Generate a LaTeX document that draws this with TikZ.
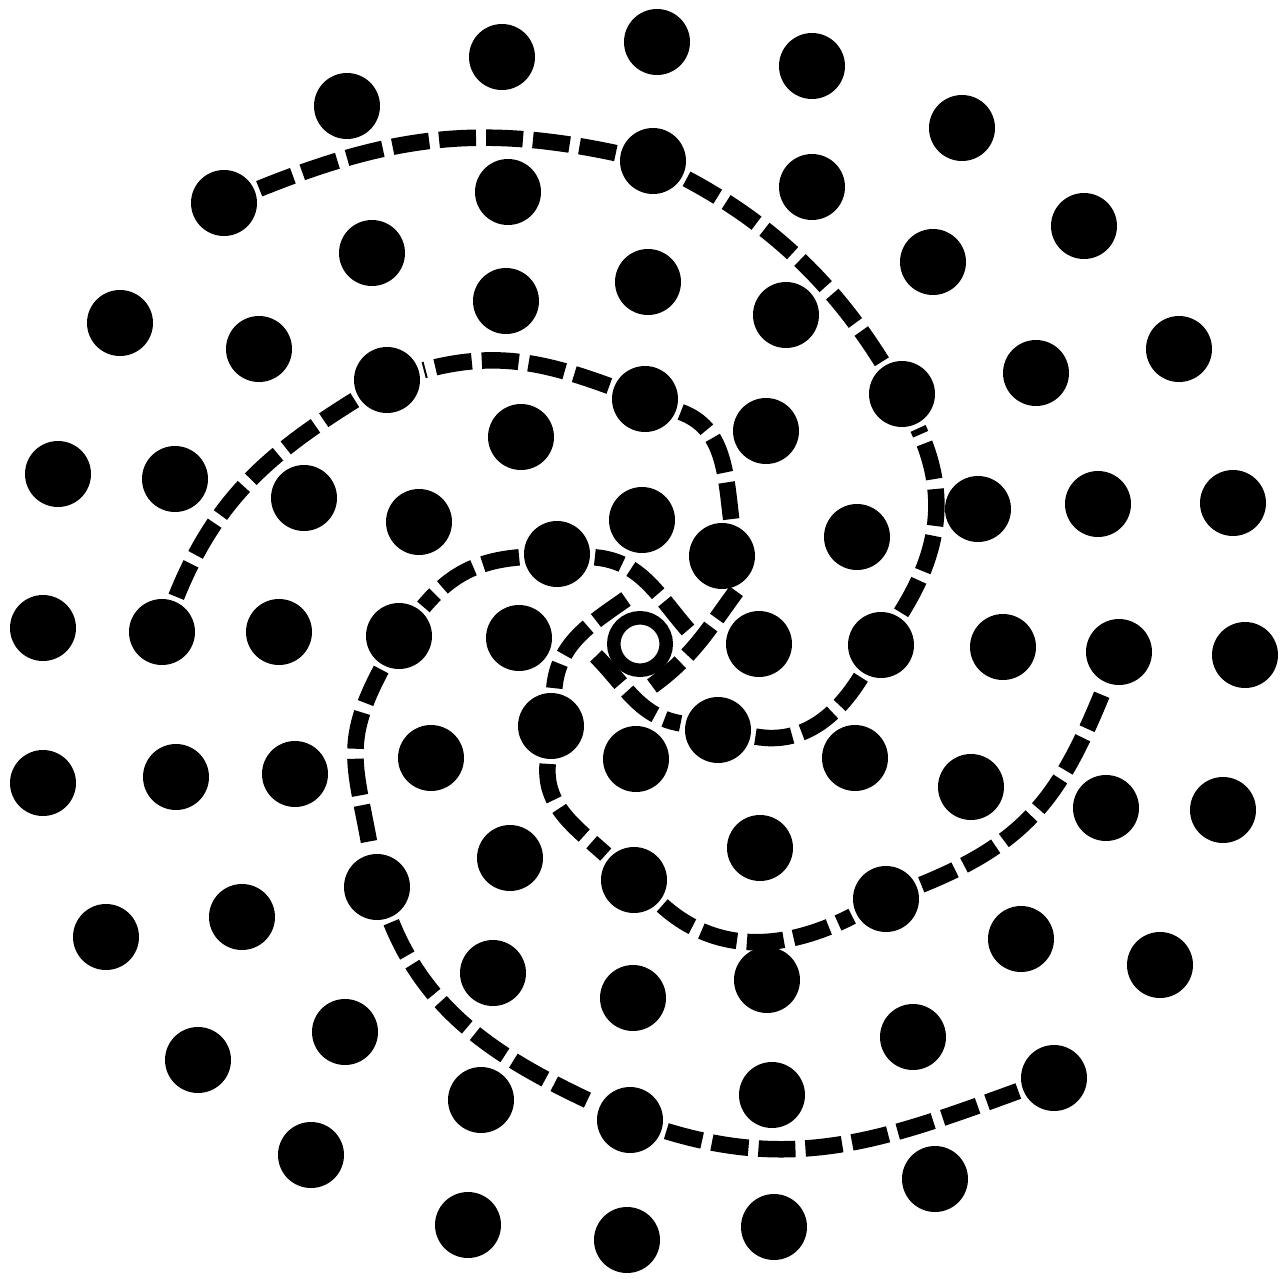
\documentclass[tikz,border=0pt]{standalone}

\begin{document}
\begin{tikzpicture}[
      x=0.02cm, y=-0.02cm,
      dot/.style={circle, fill=black, minimum size=1.32cm, inner sep=0pt, outer sep=0.1cm},
      eye/.style={circle, draw=black, line width=0.27cm, minimum size=1.05cm, inner sep=0pt},
      arm/.style={line width=0.33cm, dash pattern=on 0.74cm off 0.2cm}
    ]
      \useasboundingbox (0,0) rectangle (1288,1278);

      \foreach \n/\x/\y in {1/502/57, 2/657/42, 3/812/66, 4/347/106, 5/962/128,
          6/653/161, 7/224/203, 8/508/192, 9/812/187, 10/1084/226, 11/372/253,
          12/933/262, 13/648/282, 14/506/301, 15/786/315, 16/120/323, 17/259/349,
          18/1179/349, 19/1036/373, 20/387/380, 21/645/399, 22/902/394, 23/521/437,
          24/766/431, 25/58/474, 26/175/479, 27/304/498, 28/419/522, 29/642/520,
          30/978/509, 31/1098/504, 32/1233/503, 33/857/537, 34/557/554, 35/722/556,
          36/43/628, 37/162/632, 38/279/632, 39/399/636, 40/519/638, 41/759/644,
          42/881/645, 43/1003/647, 44/1119/652, 45/1245/655, 46/551/726, 47/718/730,
          48/43/783, 49/176/777, 50/295/774, 51/431/758, 52/636/759, 53/855/758,
          54/971/787, 55/1106/808, 56/1223/810, 57/510/858, 58/760/848, 59/377/887,
          60/634/880, 61/886/899, 62/106/937, 63/242/917, 64/1021/939, 65/1160/965,
          66/493/973, 67/633/998, 68/767/980, 69/345/1032, 70/198/1060, 71/913/1037,
          72/481/1100, 73/772/1095, 74/1054/1078, 75/630/1120, 76/311/1155,
          77/935/1179, 78/468/1225, 79/627/1240, 80/774/1227}
        \node[dot] (s\n) at (\x,\y) {};

      \node[eye] (ring) at (640,644) {};

      \coordinate (a0) at (596,656);
      \coordinate (b0) at (626,599);
      \coordinate (c0) at (652,686);
      \coordinate (d0) at (688,630);

      \draw[arm] (a0) to[out=-45, in=170] (s47)
        to[out=-10, in=238] (s42)
        to[out=58, in=295] (s22)
        to[out=122, in=332, looseness=0.9] (s6)
        to[out=168, in=22] (s7);

      \draw[arm] (b0) to[out=215, in=85] (s46)
        to[out=265, in=138] (s60)
        to[out=318, in=207] (s61)
        to[out=22, in=248, looseness=1.1] (s44);

      \draw[arm] (c0) to[out=36, in=234] (s35.-68)
        (s35.76) to[out=97, in=340] (s21)
        to[out=160, in=15] (s20)
        to[out=212, in=68] (s37);

      \draw[arm] (d0) to[out=131, in=355] (s34)
        to[out=185, in=50] (s39)
        to[out=242, in=100, looseness=1.2] (s59)
        to[out=292, in=155, looseness=0.95] (s75)
        to[out=343, in=200] (s74);
    \end{tikzpicture}
\end{document}
